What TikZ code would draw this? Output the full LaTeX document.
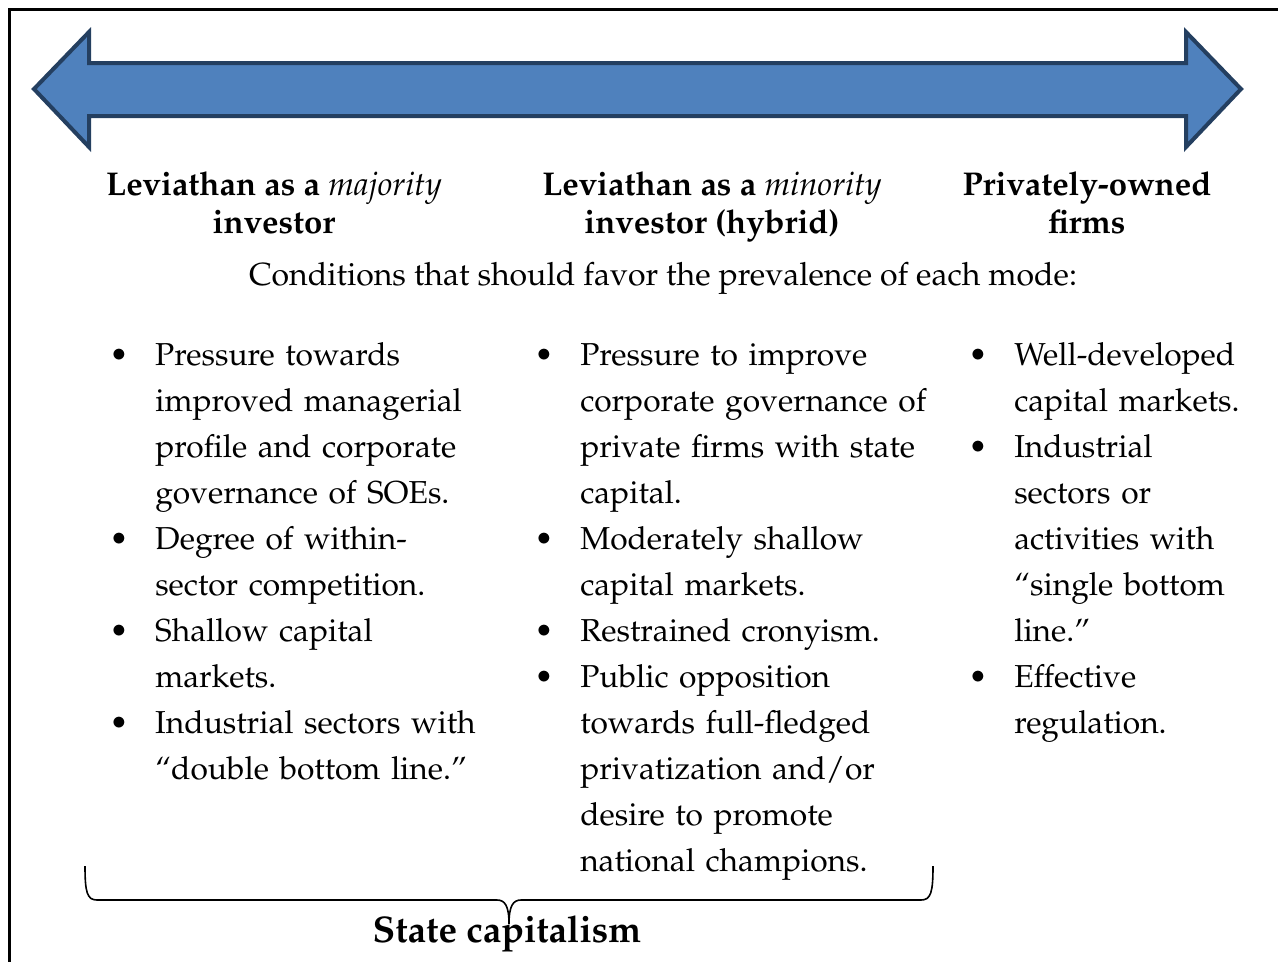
\documentclass[tikz,border=0pt]{standalone}
\usepackage[T1]{fontenc}
\renewcommand{\rmdefault}{ppl}
\usepackage{xcolor}
\definecolor{arrowfill}{HTML}{4F81BD}
\definecolor{arrowline}{HTML}{243F60}
\newcommand{\bl}{\leavevmode\llap{\makebox[34.5pt][l]{\textbullet}}}
\begin{document}
\begin{tikzpicture}[x=0.75pt,y=-0.75pt,
  body/.style={font=\fontsize{23.8pt}{34.5pt}\selectfont, align=left, anchor=base west, inner sep=0pt, text width=#1},
  head/.style={font=\fontsize{24.7pt}{28.5pt}\selectfont\bfseries, align=center, anchor=base, inner sep=0pt},
  bigarrow/.style={fill=arrowfill, draw=arrowline, line width=3pt, line join=miter},
  frame/.style={line width=2.25pt},
  brace/.style={line width=1.2pt}]
\useasboundingbox (0,0) rectangle (1278,961);
\begin{scope}
  \clip (0,0) rectangle (1278,961);
  \draw[frame] (9.5,990) -- (9.5,9.5) -- (1300,9.5);
\end{scope}
% double arrow
\draw[bigarrow] (34,89) -- (89,32) -- (89,63) -- (1186,63) -- (1186,32) -- (1241,89)
  -- (1186,147) -- (1186,116) -- (89,116) -- (89,147) -- cycle;
% headings (anchor base = last line)
\node[head] (h1) at (274,233) {Leviathan as a \textmd{\textit{majority}}\\investor};
\node[head] (h2) at (712,233) {Leviathan as a \textmd{\textit{minority}}\\investor (hybrid)};
\node[head] (h3) at (1087,233) {Privately-owned\\firms};
\node[font=\fontsize{24pt}{28pt}\selectfont, anchor=base, inner sep=0pt] (cond) at (663,285) {Conditions that should favor the prevalence of each mode:};
% columns
\node[body=340pt] (c1) at (155,365) {\bl Pressure towards\\improved managerial\\profile and corporate\\governance of SOEs.\\\bl Degree of within-\\sector competition.\\\bl Shallow capital\\markets.\\\bl Industrial sectors with\\``double bottom line.''};
\node[body=340pt] (c2) at (580,365) {\bl Pressure to improve\\corporate governance of\\private firms with state\\capital.\\\bl Moderately shallow\\capital markets.\\\bl Restrained cronyism.\\\bl Public opposition\\towards full-fledged\\privatization and/or\\desire to promote\\national champions.};
\node[body=250pt] (c3) at (1014,365) {\bl Well-developed\\capital markets.\\\bl Industrial\\sectors or\\activities with\\``single bottom\\line.''\\\bl Effective\\regulation.};
% brace
\draw[brace] (85,866) .. controls (85,892) and (87,900) .. (97,900) -- (497,900)
  .. controls (505,900) and (509,906) .. (509,924)
  .. controls (509,906) and (513,900) .. (521,900) -- (921,900)
  .. controls (931,900) and (933,892) .. (933,866);
\node[font=\fontsize{27.8pt}{30pt}\selectfont\bfseries, anchor=base, inner sep=0pt] (sc) at (507,942) {State capitalism};
\end{tikzpicture}
\end{document}
